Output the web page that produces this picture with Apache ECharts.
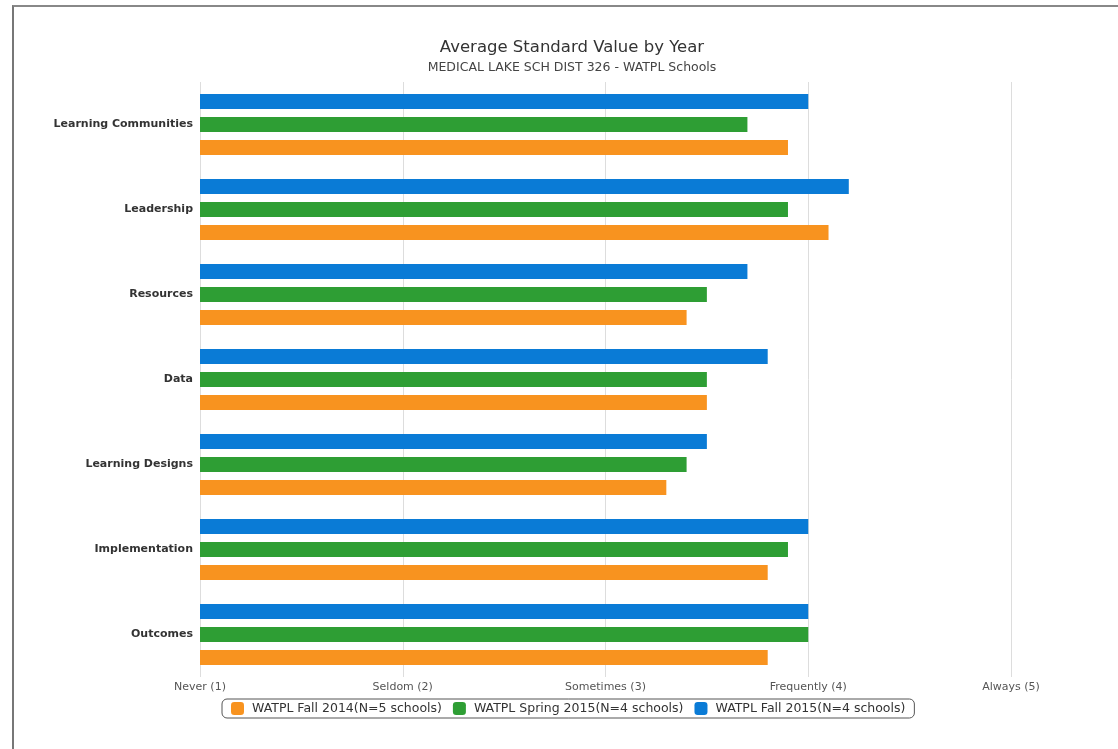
<!DOCTYPE html>
<html>
<head>
<meta charset="utf-8">
<script src="https://cdn.jsdelivr.net/npm/echarts@6/dist/echarts.min.js"></script>
<style>
html,body{margin:0;padding:0;background:#fff;}
#frame{position:absolute;left:12px;top:5px;width:1120px;height:760px;border-left:2px solid #777;border-top:2px solid #888;box-sizing:border-box;}
#chart{position:absolute;left:0;top:0;width:1118px;height:749px;}
</style>
</head>
<body>
<div id="frame"></div>
<div id="chart"></div>
<script>
const categories = ["Learning Communities","Leadership","Resources","Data","Learning Designs","Implementation","Outcomes"];
const fall2014 = [3.9, 4.1, 3.4, 3.5, 3.3, 3.8, 3.8];
const spring2015 = [3.7, 3.9, 3.5, 3.5, 3.4, 3.9, 4.0];
const fall2015 = [4.0, 4.2, 3.7, 3.8, 3.5, 4.0, 4.0];
const tickLabels = {1:"Never (1)",2:"Seldom (2)",3:"Sometimes (3)",4:"Frequently (4)",5:"Always (5)"};
const seriesNames = ["WATPL Fall 2014(N=5 schools)","WATPL Spring 2015(N=4 schools)","WATPL Fall 2015(N=4 schools)"];
const colors = ["#F8931F","#2E9E34","#0A7BD6"];

const chart = echarts.init(document.getElementById('chart'));
const font = "DejaVu Sans";
const seriesData = [fall2014, spring2015, fall2015];
chart.setOption({
  animation:false,
  title:{
    text:"Average Standard Value by Year",
    subtext:"MEDICAL LAKE SCH DIST 326 - WATPL Schools",
    left:567, textAlign:'center', top:34,
    textStyle:{fontFamily:font,fontSize:16.5,fontWeight:'normal',color:'#333'},
    subtextStyle:{fontFamily:font,fontSize:12.5,color:'#444'},
    itemGap:5
  },
  legend:{
    data:seriesNames,
    bottom:31, left:222,
    itemWidth:13,itemHeight:13,itemGap:11,
    icon:'roundRect',
    borderColor:'#555',borderWidth:1,borderRadius:5,padding:[3,9],
    textStyle:{fontFamily:font,fontSize:12.5,color:'#333',padding:[0,0,0,3]}
  },
  grid:{left:200,right:107,top:82,bottom:72,containLabel:false},
  xAxis:{
    type:'value',min:1,max:5,interval:1,
    axisLine:{show:false},axisTick:{show:false},
    splitLine:{lineStyle:{color:'#DDDDDD',width:1}},
    axisLabel:{fontFamily:font,fontSize:11,color:'#555',margin:5,formatter:v=>tickLabels[v]||''}
  },
  yAxis:{
    type:'category',data:categories,inverse:true,
    axisLine:{show:false},axisTick:{show:false},
    axisLabel:{fontFamily:font,fontSize:11,fontWeight:'bold',color:'#333',margin:7}
  },
  series:[2,1,0].map(i=>({
    name:seriesNames[i],type:'bar',data:seriesData[i],
    barWidth:15,barGap:'53%',
    itemStyle:{color:colors[i]}
  }))
});
</script>
</body>
</html>
